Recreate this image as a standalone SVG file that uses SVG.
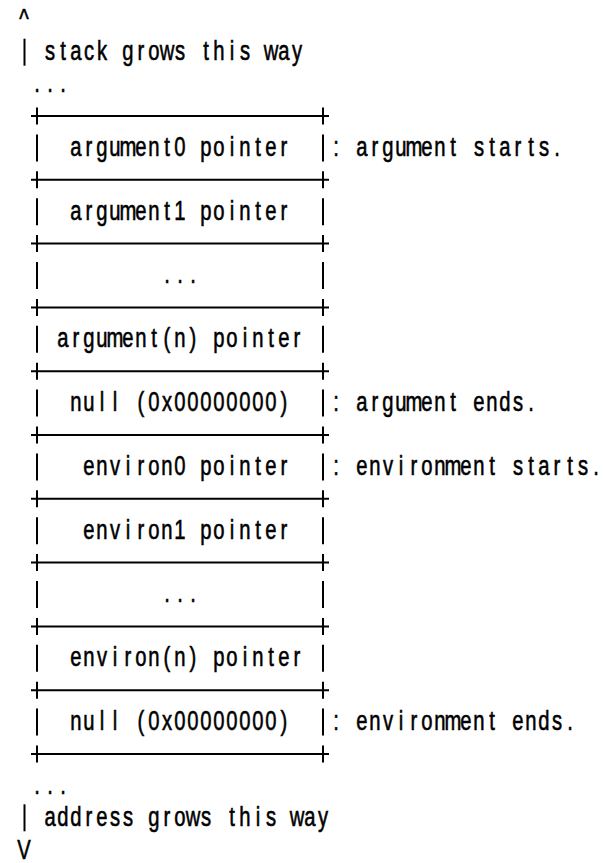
<svg xmlns="http://www.w3.org/2000/svg" width="603" height="863" viewBox="0 0 603 863">
  <style>
    /* fixed 13px character cells: each glyph is centred on its own column (18 units x 0.7222) */
    text { font-family: "Liberation Sans", Arial, sans-serif; font-size: 28px; fill: #000;
           stroke: #000; stroke-width: 0.6; text-anchor: middle; }
    .edge { stroke: #000; stroke-width: 2; fill: none; }
  </style>
  <defs>
    <!-- one plus-and-dash separator row of the stack table -->
    <g id="sep">
      <line class="edge" x1="31" y1="0" x2="329" y2="0"/>
      <line class="edge" x1="37" y1="-8.5" x2="37" y2="8.5"/>
      <line class="edge" x1="323" y1="-8.5" x2="323" y2="8.5"/>
    </g>
    <!-- the two side walls of one table row -->
    <g id="walls">
      <line class="edge" x1="37" y1="-13.5" x2="37" y2="13.5"/>
      <line class="edge" x1="323" y1="-13.5" x2="323" y2="13.5"/>
    </g>
  </defs>

  <rect width="603" height="863" fill="#fff"/>

  <!-- direction markers above and below the table -->
  <g id="connectors">
    <g id="stack-direction">
      <line class="edge" x1="24.5" y1="38.7" x2="24.5" y2="65.7"/>
      <g transform="translate(24 0) scale(0.7222 1)">
        <text x="0" y="28">^</text>
        <text x="36 54 72 90 108 126 144 162 180 198 216 234 252 270 288 306 324 342 360 378" y="60.2">stack grows this way</text>
        <text x="18 36 54" y="92">...</text>
      </g>
    </g>
    <g id="address-direction">
      <line class="edge" x1="24.5" y1="804.3" x2="24.5" y2="831.3"/>
      <g transform="translate(24 0) scale(0.7222 1)">
        <text x="18 36 54" y="793.9">...</text>
        <text x="36 54 72 90 108 126 144 162 180 198 216 234 252 270 288 306 324 342 360 378 396 414" y="825.8">address grows this way</text>
        <text x="0" y="859">V</text>
      </g>
    </g>
  </g>

  <!-- horizontal separators between table rows -->
  <g id="separators">
    <use href="#sep" y="116"/>
    <use href="#sep" y="179.8"/>
    <use href="#sep" y="243.6"/>
    <use href="#sep" y="307.4"/>
    <use href="#sep" y="371.2"/>
    <use href="#sep" y="435"/>
    <use href="#sep" y="498.8"/>
    <use href="#sep" y="562.6"/>
    <use href="#sep" y="626.4"/>
    <use href="#sep" y="690.2"/>
    <use href="#sep" y="754"/>
  </g>

  <!-- table rows -->
  <g id="cell-argument0">
    <use href="#walls" y="147.9"/>
    <g transform="translate(24 0) scale(0.7222 1)">
      <text x="72 90 108 126 144 162 180 198 216 234 252 270 288 306 324 342 360" y="155.9">argument0 pointer</text>
      <text x="432" y="155.9">:</text>
      <text x="468 486 504 522 540 558 576 594 612 630 648 666 684 702 720 738" y="155.9">argument starts.</text>
    </g>
  </g>
  <g id="cell-argument1">
    <use href="#walls" y="211.7"/>
    <g transform="translate(24 0) scale(0.7222 1)">
      <text x="72 90 108 126 144 162 180 198 216 234 252 270 288 306 324 342 360" y="219.7">argument1 pointer</text>
    </g>
  </g>
  <g id="cell-argument-more">
    <use href="#walls" y="275.5"/>
    <g transform="translate(24 0) scale(0.7222 1)">
      <text x="198 216 234" y="283.5">...</text>
    </g>
  </g>
  <g id="cell-argument-n">
    <use href="#walls" y="339.3"/>
    <g transform="translate(24 0) scale(0.7222 1)">
      <text x="54 72 90 108 126 144 162 180 198 216 234 252 270 288 306 324 342 360 378" y="347.3">argument(n) pointer</text>
    </g>
  </g>
  <g id="cell-argument-null">
    <use href="#walls" y="403.1"/>
    <g transform="translate(24 0) scale(0.7222 1)">
      <text x="72 90 108 126 144 162 180 198 216 234 252 270 288 306 324 342 360" y="411.1">null (0x00000000)</text>
      <text x="432" y="411.1">:</text>
      <text x="468 486 504 522 540 558 576 594 612 630 648 666 684 702" y="411.1">argument ends.</text>
    </g>
  </g>
  <g id="cell-environ0">
    <use href="#walls" y="466.9"/>
    <g transform="translate(24 0) scale(0.7222 1)">
      <text x="90 108 126 144 162 180 198 216 234 252 270 288 306 324 342 360" y="474.9">environ0 pointer</text>
      <text x="432" y="474.9">:</text>
      <text x="468 486 504 522 540 558 576 594 612 630 648 666 684 702 720 738 756 774 792" y="474.9">environment starts.</text>
    </g>
  </g>
  <g id="cell-environ1">
    <use href="#walls" y="530.7"/>
    <g transform="translate(24 0) scale(0.7222 1)">
      <text x="90 108 126 144 162 180 198 216 234 252 270 288 306 324 342 360" y="538.7">environ1 pointer</text>
    </g>
  </g>
  <g id="cell-environ-more">
    <use href="#walls" y="594.5"/>
    <g transform="translate(24 0) scale(0.7222 1)">
      <text x="198 216 234" y="602.5">...</text>
    </g>
  </g>
  <g id="cell-environ-n">
    <use href="#walls" y="658.3"/>
    <g transform="translate(24 0) scale(0.7222 1)">
      <text x="72 90 108 126 144 162 180 198 216 234 252 270 288 306 324 342 360 378" y="666.3">environ(n) pointer</text>
    </g>
  </g>
  <g id="cell-environ-null">
    <use href="#walls" y="722.1"/>
    <g transform="translate(24 0) scale(0.7222 1)">
      <text x="72 90 108 126 144 162 180 198 216 234 252 270 288 306 324 342 360" y="730.1">null (0x00000000)</text>
      <text x="432" y="730.1">:</text>
      <text x="468 486 504 522 540 558 576 594 612 630 648 666 684 702 720 738 756" y="730.1">environment ends.</text>
    </g>
  </g>
</svg>
